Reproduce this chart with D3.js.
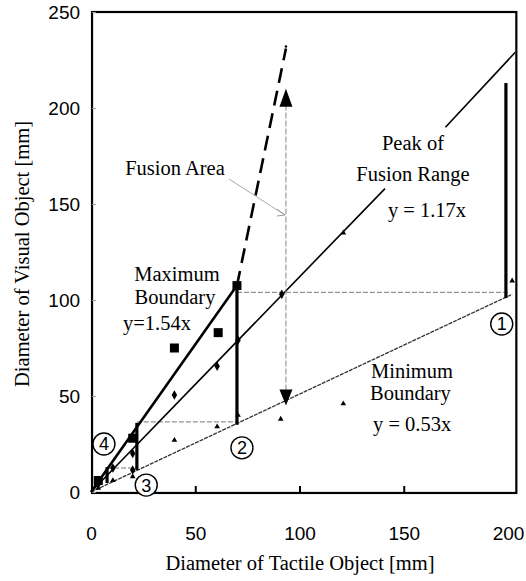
<!DOCTYPE html>
<html><head><meta charset="utf-8">
<script src="https://cdn.jsdelivr.net/npm/d3@7"></script>
<style>
html,body{margin:0;padding:0;background:#fff;}
svg{display:block;}
.serif{font-family:"Liberation Serif","Times New Roman",serif;}
</style></head>
<body>
<svg id="chart" width="526" height="581"></svg>
<script>
// ---- data ----
const xTicks = [0, 50, 100, 150, 200];
const yTicks = [0, 50, 100, 150, 200, 250];
// fitted boundary lines [x,y]
const maxBoundary = [[0, 0], [70, 107.5]];          // y = 1.54x
const maxExtension = [[70, 107.5], [93.5, 231]];    // dashed
const peakLower = [[0, 0], [141, 158]];             // y = 1.17x (broken by label)
const peakUpper = [[170, 190], [203.5, 229]];
const minBoundary = [[0, 0], [202, 103]];           // y = 0.53x
// fusion ranges at each tactile size: [x, yMin, yMax]
const fusionRanges = [[199, 101, 213], [70, 35, 107.5], [22, 11.5, 36], [7.7, 4.7, 13]];
// transfer lines: [xFrom, xTo, y]
const transfers = [[70, 200, 104], [22, 70, 36.5], [7.7, 22, 12.5]];
// measured points
const maxPoints = [[3.5, 6], [20, 28], [40, 75], [61, 83], [70, 107.5]];
const peakPoints = [[3.5, 4], [10.5, 12.5], [20, 20], [20, 11.5], [40, 50.5], [60.5, 65.5], [70.5, 79], [91.5, 103]];
const minPoints = [[3.5, 2], [10.5, 6], [20, 8], [40, 27], [60.5, 34], [70.5, 40], [91, 38], [121, 46], [121, 135], [202, 110]];
// fusion area arrow: x, bottom, top
const fusionArrow = {x: 93.5, y0: 45, y1: 210};
// circled labels [label, x, y]
const circled = [["1", 197, 87.5], ["2", 72.4, 23], ["3", 26.5, 3.6], ["4", 6.2, 25]];

const svg = d3.select("#chart");
const x = d3.scaleLinear().domain([0, 200]).range([91, 508]);
const y = d3.scaleLinear().domain([0, 250]).range([492, 12]);
const line = d3.line().x(d => x(d[0])).y(d => y(d[1]));

// plot frame
const x0 = x(0.5), x1 = x(204), yT = y(250), yB = y(-0.5);
svg.append("rect").attr("x", x0).attr("y", yT).attr("width", x1 - x0).attr("height", yB - yT)
  .attr("fill", "none").attr("stroke", "#000").attr("stroke-width", 2.2);

// axes
const yAxis = d3.axisLeft(y).tickValues(yTicks).tickSizeInner(-4).tickSizeOuter(0).tickPadding(12);
const gy = svg.append("g").attr("transform", `translate(${x0},0)`).call(yAxis);
gy.select(".domain").remove();
gy.selectAll("line").attr("stroke", "#999").attr("stroke-width", 1);
gy.selectAll("text").attr("font-family", "Liberation Sans, Arial, sans-serif").attr("font-size", 19).attr("fill", "#000");

const xAxis = d3.axisBottom(x).tickValues(xTicks).tickSizeInner(-7).tickSizeOuter(0).tickPadding(34);
const gx = svg.append("g").attr("transform", `translate(0,${yB})`).call(xAxis);
gx.select(".domain").remove();
gx.selectAll("line").attr("stroke", "#000").attr("stroke-width", 2)
  .attr("opacity", d => (d === 0 || d === 200) ? 0 : 1);
gx.selectAll("text").attr("font-family", "Liberation Sans, Arial, sans-serif").attr("font-size", 19).attr("fill", "#000");

// axis titles
svg.append("text").attr("class", "serif").attr("x", 300).attr("y", 570).attr("text-anchor", "middle")
  .attr("font-size", 20.5).text("Diameter of Tactile Object [mm]");
svg.append("text").attr("class", "serif").attr("transform", "translate(29,254) rotate(-90)")
  .attr("text-anchor", "middle").attr("font-size", 20.5).text("Diameter of Visual Object [mm]");

// transfer (dotted) lines
transfers.forEach(t => {
  svg.append("line").attr("x1", x(t[0])).attr("x2", x(t[1])).attr("y1", y(t[2])).attr("y2", y(t[2]))
    .attr("stroke", "#777").attr("stroke-width", 1).attr("stroke-dasharray", "5,2");
});

// boundary lines
svg.append("path").datum(minBoundary).attr("d", line).attr("fill", "none")
  .attr("stroke", "#333").attr("stroke-width", 1.3).attr("stroke-dasharray", "4,1");
svg.append("path").datum(peakLower).attr("d", line).attr("fill", "none").attr("stroke", "#000").attr("stroke-width", 1.6);
svg.append("path").datum(peakUpper).attr("d", line).attr("fill", "none").attr("stroke", "#000").attr("stroke-width", 1.6);
svg.append("path").datum(maxBoundary).attr("d", line).attr("fill", "none").attr("stroke", "#000").attr("stroke-width", 2.6);
svg.append("path").datum(maxExtension).attr("d", line).attr("fill", "none").attr("stroke", "#000")
  .attr("stroke-width", 2.6).attr("stroke-dasharray", "15,8");
svg.append("circle").attr("cx", x(maxExtension[1][0])).attr("cy", y(maxExtension[1][1]) - 2).attr("r", 1.3).attr("fill", "#000");

// fusion range bars
fusionRanges.forEach(r => {
  svg.append("line").attr("x1", x(r[0])).attr("x2", x(r[0])).attr("y1", y(r[1])).attr("y2", y(r[2]))
    .attr("stroke", "#000").attr("stroke-width", 3.2);
});

// fusion area vertical arrow
const fa = fusionArrow;
svg.append("line").attr("x1", x(fa.x)).attr("x2", x(fa.x)).attr("y1", y(fa.y0) - 15).attr("y2", y(fa.y1) + 15)
  .attr("stroke", "#888").attr("stroke-width", 1).attr("stroke-dasharray", "6,2");
const ax = x(fa.x);
svg.append("path").attr("d", `M${ax},${y(fa.y1)} L${ax - 6.5},${y(fa.y1) + 18} L${ax + 6.5},${y(fa.y1) + 18} Z`).attr("fill", "#000");
svg.append("path").attr("d", `M${ax},${y(fa.y0)} L${ax - 6.5},${y(fa.y0) - 16} L${ax + 6.5},${y(fa.y0) - 16} Z`).attr("fill", "#000");
// leader from "Fusion Area"
svg.append("line").attr("x1", 229).attr("y1", 179).attr("x2", ax - 1).attr("y2", 215)
  .attr("stroke", "#aaa").attr("stroke-width", 1);
svg.append("path").attr("d", `M${ax - 9},${209} L${ax - 1},${215} L${ax - 9},${216}`).attr("fill", "none")
  .attr("stroke", "#999").attr("stroke-width", 1);

// markers
svg.selectAll(".sq").data(maxPoints).enter().append("rect")
  .attr("x", d => x(d[0]) - 4.5).attr("y", d => y(d[1]) - 4.5).attr("width", 9).attr("height", 9).attr("fill", "#000");
const diamond = d3.symbol().type(d3.symbolDiamond).size(26);
svg.selectAll(".dm").data(peakPoints).enter().append("path")
  .attr("transform", d => `translate(${x(d[0])},${y(d[1])})`).attr("d", diamond).attr("fill", "#000");
const tri = d3.symbol().type(d3.symbolTriangle).size(14);
svg.selectAll(".tr").data(minPoints).enter().append("path")
  .attr("transform", d => `translate(${x(d[0])},${y(d[1])})`).attr("d", tri).attr("fill", "#000");

// circled numbers
circled.forEach(c => {
  const g = svg.append("g").attr("transform", `translate(${x(c[1])},${y(c[2])})`);
  g.append("circle").attr("r", 11).attr("fill", "#fff").attr("stroke", "#000").attr("stroke-width", 1.4);
  g.append("text").attr("text-anchor", "middle").attr("dy", "0.36em").attr("font-size", 18)
    .attr("font-family", "Liberation Sans, Arial, sans-serif").text(c[0]);
});

// annotations
function label(lines, xPos, yPos, anchor) {
  lines.forEach((t, i) => {
    svg.append("text").attr("class", "serif").attr("x", xPos[i]).attr("y", yPos[i])
      .attr("text-anchor", anchor).attr("font-size", 20.5).text(t);
  });
}
label(["Fusion Area"], [175], [175], "middle");
label(["Peak of", "Fusion Range", "y = 1.17x"], [413, 413, 427], [150, 181, 217], "middle");
label(["Maximum", "Boundary", "y=1.54x"], [177, 175, 157], [281, 304, 330], "middle");
label(["Minimum", "Boundary", "y = 0.53x"], [371, 370, 373], [378, 400, 431], "start");
</script>
</body></html>
